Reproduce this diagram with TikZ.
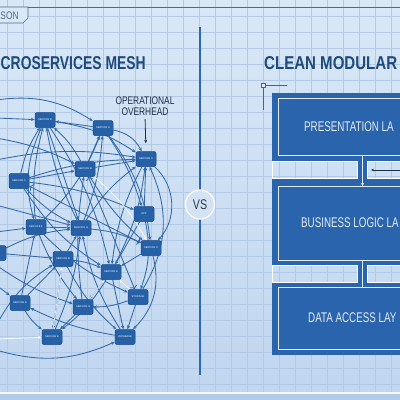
\documentclass[tikz,border=0pt]{standalone}
\usepackage{fontspec}
\setmainfont{Liberation Sans}
\newfontfamily\cond[FakeStretch=0.76]{Liberation Sans}
\newfontfamily\condl[FakeStretch=0.70]{Liberation Sans}
\usetikzlibrary{arrows.meta}
\definecolor{bgtop}{HTML}{D9E8F7}
\definecolor{bgbot}{HTML}{C0D6EF}
\definecolor{gridc}{HTML}{B2CAE7}
\definecolor{titlec}{HTML}{1E4A7C}
\definecolor{boxc}{HTML}{2A64AC}
\definecolor{edgec}{HTML}{3368A8}
\definecolor{nodec}{HTML}{2660A6}
\definecolor{nodeb}{HTML}{1A4B8A}
\definecolor{linec}{HTML}{2A6AB3}
\definecolor{darkt}{HTML}{1F2F45}
\definecolor{layert}{HTML}{E3ECF7}
\definecolor{tagd}{HTML}{4F6985}
\definecolor{vsf}{HTML}{D3E3F4}
\pgfdeclarelayer{bg}\pgfdeclarelayer{edges}\pgfsetlayers{bg,edges,main}
\tikzset{
  svc/.style={draw=nodeb, fill=nodec, rounded corners=2pt, minimum width=20pt, minimum height=15pt, inner sep=0pt, text=white, font=\fontsize{2.6}{3}\selectfont, line width=0.5pt},
  ed/.style={draw=edgec, line width=0.85pt, -{Stealth[length=3.8pt,width=3.2pt]}},
  wed/.style={draw=white, opacity=0.85, line width=0.8pt, -{Stealth[length=3.6pt,width=3pt]}},
  layerbox/.style={fill=boxc},
  inbox/.style={draw=layert, line width=0.7pt},
  gapbox/.style={draw=white, line width=0.6pt},
  layertxt/.style={anchor=west, inner sep=0pt, text=layert, font=\condl\fontsize{14}{14}\selectfont},
}
\begin{document}
\begin{tikzpicture}[x=1pt,y=-1pt]
\useasboundingbox (0,0) rectangle (400,400);
\clip (0,0) rectangle (400,400);
\begin{pgfonlayer}{bg}
\shade[top color=bgtop, bottom color=bgbot] (0,0) rectangle (400,400);
\foreach \x in {7,23,...,400} \draw[gridc, line width=0.4pt] (\x,0) -- (\x,400);
\foreach \y in {16,32,...,400} \draw[gridc, line width=0.4pt] (0,\y) -- (400,\y);
\fill[bgbot!90!boxc] (0,393) rectangle (400,400);
\draw[white!85!bgbot, line width=1.2pt] (0,393) -- (400,393);
\end{pgfonlayer}

% header
\draw[tagd, line width=0.8pt] (0,7) -- (400,7);
\draw[fill=bgtop, draw=tagd, line width=0.7pt] (-2,7) -- (28,7) -- (28,18) -- (23,23) -- (-2,23) -- cycle;
\node[text=tagd, inner sep=0pt, font=\cond\fontsize{11}{11}\selectfont] (tag) at (9.5,16) {SON};
\node[anchor=west, inner sep=0pt, text=titlec] (t1) at (0.5,63.5) {\resizebox{145pt}{13pt}{\bfseries CROSERVICES MESH}};
\node[anchor=west, inner sep=0pt, text=titlec] (t2) at (264,63.5) {\resizebox{133pt}{13pt}{\bfseries CLEAN MODULAR}};

% divider and VS
\draw[linec, line width=2pt] (199.5,27) -- (199.5,375);
\node[circle, fill=vsf, draw=white, line width=1.2pt, minimum size=29pt, inner sep=0pt, text=darkt!80!tagd, font=\cond\fontsize{14}{14}\selectfont] (vs) at (200,204.5) {VS};

% right panel
\fill[layerbox] (272,93) rectangle (410,161);
\fill[layerbox] (272,179) rectangle (410,265);
\fill[layerbox] (272,283) rectangle (410,355);
\fill[layerbox] (358,161) rectangle (367,179);
\fill[layerbox] (358,265) rectangle (367,283);
\draw[gapbox] (272.5,161.5) rectangle (357.5,178.5);
\draw[gapbox] (367.5,161.5) rectangle (410,178.5);
\draw[gapbox] (272.5,265.5) rectangle (357.5,282.5);
\draw[gapbox] (367.5,265.5) rectangle (410,282.5);
\draw[inbox] (278,98.5) rectangle (405,155);
\draw[inbox] (278,186) rectangle (405,260);
\draw[inbox] (278,287) rectangle (405,349);
\node[layertxt] (pl) at (304,127) {PRESENTATION LA};
\node[layertxt] (bl) at (301,223) {BUSINESS LOGIC LA};
\node[layertxt] (dl) at (308,318) {DATA ACCESS LAY};
\coordinate (c1a) at (362.5,155);
\coordinate (c1b) at (362.5,186);
\coordinate (c2a) at (362.5,260);
\coordinate (c2b) at (362.5,287);
\draw[layert, line width=0.7pt, -{Stealth[length=3pt,width=3pt]}] (c1a) -- (c1b);
\draw[layert, line width=0.7pt] (c2a) -- (c2b);
\coordinate (ar1) at (402,170);
\coordinate (ar2) at (371,170);
\draw[darkt, line width=0.6pt, -{Stealth[length=3pt,width=2.5pt]}] (ar1) -- (ar2);
\node[draw=linec, fill=bgtop, minimum size=4pt, inner sep=0pt, line width=0.6pt] (mk) at (263,85) {};
\coordinate (mkE) at (287,85);
\coordinate (mkS) at (263,110);
\draw[linec, line width=0.6pt] (mk.east) -- (mkE);
\draw[linec, line width=0.6pt] (mk.south) -- (mkS);

% mesh nodes
\node[svc] (sB1) at (45,120) {SERVICE B};
\node[svc] (sA) at (103,128) {SERVICE A};
\node[svc] (sX1) at (146,159) {SERVICE X};
\node[svc] (sB2) at (85,169) {SERVICE B};
\node[svc] (sC) at (19,181) {SERVICE C};
\node[svc] (app) at (144,214) {APP};
\node[svc] (sF) at (36,227) {SERVICE F};
\node[svc] (sG) at (81,228) {SERVICE G};
\node[svc] (sX2) at (151,248) {SERVICE X};
\node[svc] (sB3) at (63,259) {SERVICE B};
\node[svc] (sE1) at (111,272) {SERVICE E};
\node[svc] (stor) at (138,297) {STORAGE};
\node[svc] (sE2) at (20,303) {SERVICE E};
\node[svc] (sH) at (83,307) {SERVICE H};
\node[svc] (sE3) at (52,337) {SERVICE E};
\node[svc] (db) at (125,337) {DATABASE};
\node[svc] (sL) at (-4,253) {};

\node[align=center, inner sep=0pt, text=darkt, font=\cond\fontsize{11}{11}\selectfont] (ovh) at (145,106.5) {OPERATIONAL\\OVERHEAD};
\draw[darkt, line width=0.8pt, -{Stealth[length=3.5pt,width=3pt]}, shorten <=3pt, shorten >=8pt] (ovh.south) -- (sX1.north);

\coordinate (L1) at (-4,100);
\coordinate (L2) at (-4,138);
\coordinate (L3) at (-4,160);
\coordinate (L4) at (-4,205);
\coordinate (L5) at (-4,232);
\coordinate (L6) at (-4,285);
\coordinate (L7) at (-4,326);
\coordinate (L8) at (-4,339);
\coordinate (L9) at (-4,350);
\coordinate (L10) at (-4,118);
\coordinate (L11) at (-4,265);

\begin{pgfonlayer}{edges}
\draw[ed] (sA) -- (sB1);
\draw[ed] (sA) to[bend left=25] (sX1);
\draw[ed] (sB1) to[bend left=12] (sX1);
\draw[ed] (sB2) -- (sX1);
\draw[ed] (sC) to[bend left=8] (sX1);
\draw[ed] (sC) to[bend left=10] (sB1);
\draw[ed] (sB2) to[bend right=10] (sB1);
\draw[ed] (sG) to[bend left=8] (sB1);
\draw[ed] (sF) to[bend left=10] (sB1);
\draw[ed] (sG) to[bend right=8] (sA);
\draw[ed] (sB2) -- (sA);
\draw[ed] (sF) to[bend right=12] (sA);
\draw[ed] (sX1) to[bend left=45] (sX2);
\draw[ed] (app) -- (sX1);
\draw[ed] (sG) to[bend left=10] (sX1);
\draw[ed] (sE1) to[bend right=10] (sX1);
\draw[ed] (stor) to[bend right=28] (sX1);
\draw[ed] (sC) -- (sB2);
\draw[ed] (sC) to[bend right=10] (sG);
\draw[ed] (sC) to[bend left=8] (app);
\draw[ed] (sF) -- (sG);
\draw[ed] (sG) to[bend left=10] (sX2);
\draw[ed] (sB2) to[bend right=8] (sX2);
\draw[ed] (sC) to[bend right=12] (sE1);
\draw[ed] (sF) to[bend right=10] (stor);
\draw[ed] (sB3) -- (sG);
\draw[ed] (sB3) to[bend left=8] (sE1);
\draw[ed] (sB3) to[bend right=10] (db);
\draw[ed] (sB3) -- (sE3);
\draw[ed] (sE1) -- (sH);
\draw[ed] (stor) to[bend left=10] (sH);
\draw[ed] (stor) -- (db);
\draw[ed] (sX2) to[bend left=30] (db);
\draw[ed] (sE2) -- (sB3);
\draw[ed] (sE2) to[bend right=10] (sE3);
\draw[ed] (sH) -- (sE3);
\draw[ed] (sE1) -- (db);
\draw[ed] (sE3) to[bend right=8] (sG);
\draw[ed] (db) to[bend left=10] (sG);
\draw[ed] (sH) to[bend left=8] (sB2);
\draw[ed] (sE2) -- (sF);
\draw[ed] (sL) -- (sB3);
\draw[ed] (sL) to[bend left=10] (sG);
\draw[ed] (app) -- (sE1);
\draw[ed] (sA) to[bend left=8] (app);
\draw[ed] (sB1) -- (sG);
\draw[ed] (sX2) -- (sE1);
\draw[ed] (sF) to[bend right=8] (sH);
\draw[ed] (sE1) to[bend left=10] (sE3);
\draw[ed] (sB1) to[bend right=20] (sF);
\draw[ed] (db) to[bend left=8] (sE2);
\draw[ed, <->] (sB2) -- (stor);
\draw[ed, <->] (sC) -- (sX2);
\draw[ed] (app) to[bend left=15] (stor);
\draw[ed] (sX1) to[bend right=10] (sE1);
\draw[ed] (sA) to[bend left=15] (sX2);
\draw[ed] (sB1) to[bend left=10] (sE1);
\draw[ed] (L1) to[bend left=20] (sA);
\draw[ed] (L10) -- (sB1);
\draw[ed] (L2) to[bend left=8] (sB2);
\draw[ed] (L3) to[bend left=10] (sX1);
\draw[ed] (L4) -- (sG);
\draw[ed] (L5) -- (sF);
\draw[ed] (L6) -- (sE2);
\draw[ed] (L11) to[bend right=8] (sH);
\draw[ed] (L7) to[bend left=15] (sB3);
\draw[ed] (L9) to[bend right=20] (db);
\draw[wed] (L8) -- (sE3);
\draw[wed] (sH) -- (sE1);
\draw[wed] (sB2) to[bend left=10] (sX2);
\draw[wed] (sE3) -- (sB3);
\draw[wed] (stor) -- (sE1);
\end{pgfonlayer}
\end{tikzpicture}
\end{document}
